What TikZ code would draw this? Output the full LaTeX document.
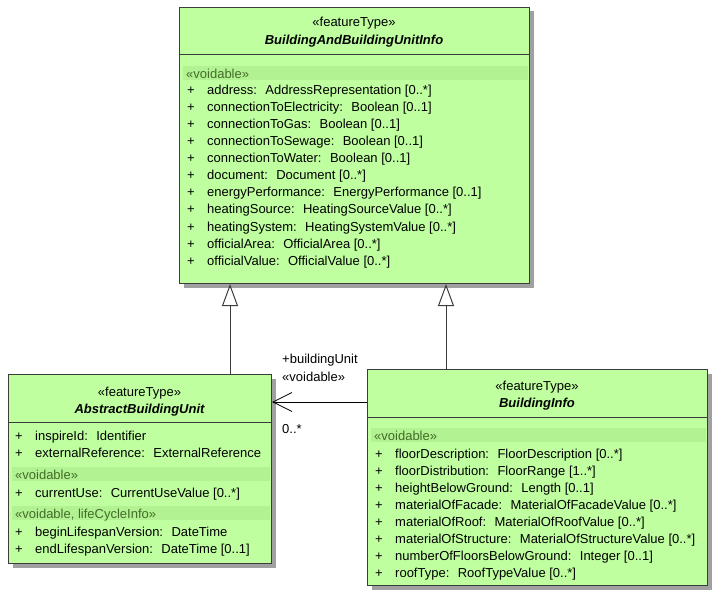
\documentclass[tikz,border=0pt]{standalone}
\usepackage{fontspec}
\setmainfont{Liberation Sans}
\usetikzlibrary{arrows.meta,shadows}
\definecolor{umlzelena}{RGB}{192,255,160}
\definecolor{umlpas}{RGB}{178,242,146}
\definecolor{umlstereo}{RGB}{66,108,40}
\definecolor{umlcara}{RGB}{60,60,60}
\definecolor{umlstin}{RGB}{160,160,160}
\newcommand\plusznak{\makebox[20pt][l]{+}}

\begin{document}
\begin{tikzpicture}[x=1pt,y=-1pt,
  every node/.style={font=\fontsize{13}{15}\selectfont},
  trida/.style={draw=umlcara, line width=1pt, fill=umlzelena, anchor=north west,
    inner sep=0pt, general shadow={fill=umlstin, shadow xshift=4pt, shadow yshift=-4pt}},
  stereo/.style={inner sep=0pt, text height=13.5pt, text depth=3pt},
  jmeno/.style={stereo, font=\fontsize{13}{15}\selectfont\bfseries\itshape},
  atr/.style={anchor=west, inner sep=0pt, text height=13.5pt, text depth=3pt},
  pas/.style={atr, text=umlstereo},
  gen/.style={draw=umlcara, line width=1pt, -{Triangle[open,length=22pt,width=16pt]}},
  asoc/.style={draw=black, line width=0.8pt, -{Straight Barb[length=19pt,width=19pt]}}]
  \useasboundingbox (0,0) rectangle (715,596);

  % horní třída
  \node[trida, minimum width=350pt, minimum height=276pt] (topcls) at (179,7) {};
  \node[stereo] (topster) at (354,21) {«featureType»};
  \node[jmeno] (topjm) at (354,39) {BuildingAndBuildingUnitInfo};
  \draw[umlcara, line width=1pt] ([yshift=-48pt]topcls.north west) -- ([yshift=-48pt]topcls.north east);
  \fill[umlpas] ([xshift=4pt,yshift=-59pt]topcls.north west) rectangle ([xshift=-2pt,yshift=-73pt]topcls.north east);
  \node[pas] (toppas) at (186,73) {«voidable»};
  \foreach \t [count=\i] in {address:~ AddressRepresentation [0..*],
      connectionToElectricity:~ Boolean [0..1], connectionToGas:~ Boolean [0..1],
      connectionToSewage:~ Boolean [0..1], connectionToWater:~ Boolean [0..1],
      document:~ Document [0..*], energyPerformance:~ EnergyPerformance [0..1],
      heatingSource:~ HeatingSourceValue [0..*], heatingSystem:~ HeatingSystemValue [0..*],
      officialArea:~ OfficialArea [0..*], officialValue:~ OfficialValue [0..*]}
    \node[atr] (topa\i) at (187,{71.9+17.1*\i}) {\plusznak\t};

  % AbstractBuildingUnit
  \node[trida, minimum width=263pt, minimum height=189pt] (unitcls) at (8,374) {};
  \node[stereo] (unitster) at (139.5,391) {«featureType»};
  \node[jmeno] (unitjm) at (139.5,408) {AbstractBuildingUnit};
  \draw[umlcara, line width=1pt] ([yshift=-48pt]unitcls.north west) -- ([yshift=-48pt]unitcls.north east);
  \node[atr] (unita1) at (15,435) {\plusznak inspireId:~ Identifier};
  \node[atr] (unita2) at (15,452) {\plusznak externalReference:~ ExternalReference};
  \fill[umlpas] ([xshift=4pt,yshift=-93pt]unitcls.north west) rectangle ([xshift=-2pt,yshift=-107pt]unitcls.north east);
  \node[pas] (unitpas1) at (15,474) {«voidable»};
  \node[atr] (unita3) at (15,492) {\plusznak currentUse:~ CurrentUseValue [0..*]};
  \fill[umlpas] ([xshift=4pt,yshift=-132pt]unitcls.north west) rectangle ([xshift=-2pt,yshift=-146pt]unitcls.north east);
  \node[pas] (unitpas2) at (15,513) {«voidable, lifeCycleInfo»};
  \node[atr] (unita4) at (15,531) {\plusznak beginLifespanVersion:~ DateTime};
  \node[atr] (unita5) at (15,548) {\plusznak endLifespanVersion:~ DateTime [0..1]};

  % BuildingInfo
  \node[trida, minimum width=340pt, minimum height=216pt] (infocls) at (367,369) {};
  \node[stereo] (infoster) at (537,385) {«featureType»};
  \node[jmeno] (infojm) at (537,402) {BuildingInfo};
  \draw[umlcara, line width=1pt] ([yshift=-48pt]infocls.north west) -- ([yshift=-48pt]infocls.north east);
  \fill[umlpas] ([xshift=4pt,yshift=-59pt]infocls.north west) rectangle ([xshift=-2pt,yshift=-73pt]infocls.north east);
  \node[pas] (infopas) at (374,435) {«voidable»};
  \foreach \t [count=\i] in {floorDescription:~ FloorDescription [0..*],
      floorDistribution:~ FloorRange [1..*], heightBelowGround:~ Length [0..1],
      materialOfFacade:~ MaterialOfFacadeValue [0..*], materialOfRoof:~ MaterialOfRoofValue [0..*],
      materialOfStructure:~ MaterialOfStructureValue [0..*],
      numberOfFloorsBelowGround:~ Integer [0..1], roofType:~ RoofTypeValue [0..*]}
    \node[atr] (infoa\i) at (375,{436+17*\i}) {\plusznak\t};

  % generalizace
  \coordinate (genL) at (230,0);
  \coordinate (genR) at (446,0);
  \draw[gen] (unitcls.north -| genL) -- (topcls.south -| genL);
  \draw[gen] (infocls.north -| genR) -- (topcls.south -| genR);

  % asociace
  \coordinate (asocy) at (0,402);
  \draw[asoc] (infocls.west |- asocy) -- (unitcls.east |- asocy);
  \node[atr] (rolejm) at (282,358) {+buildingUnit};
  \node[atr] (rolester) at (282,376) {«voidable»};
  \node[atr] (rolemult) at (282,428) {0..*};
\end{tikzpicture}
\end{document}
